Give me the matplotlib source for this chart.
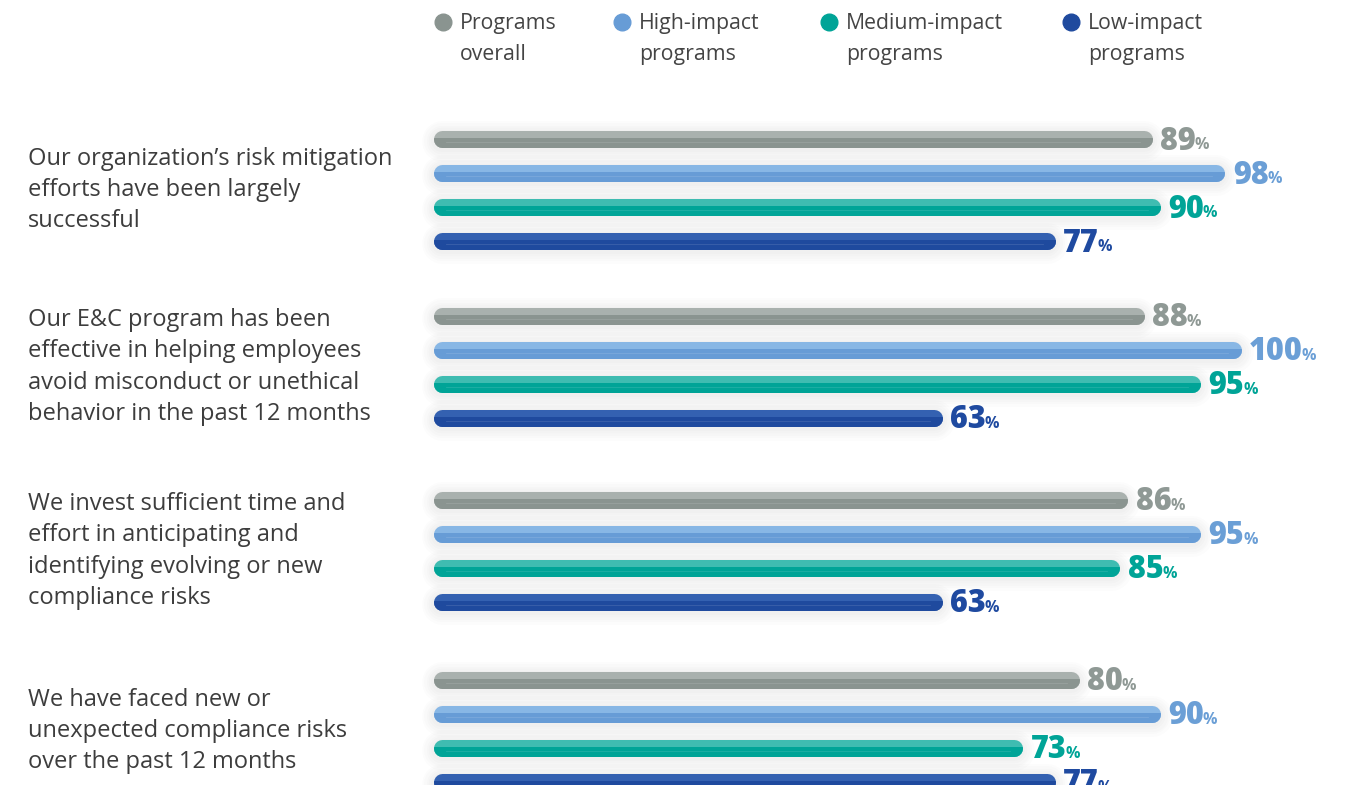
import matplotlib.pyplot as plt
from matplotlib.patches import Rectangle

# survey statements and share of respondents agreeing, by program type
statements = [
    "Our organization\u2019s risk mitigation\nefforts have been largely\nsuccessful",
    "Our E&C program has been\neffective in helping employees\navoid misconduct or unethical\nbehavior in the past 12 months",
    "We invest sufficient time and\neffort in anticipating and\nidentifying evolving or new\ncompliance risks",
    "We have faced new or\nunexpected compliance risks\nover the past 12 months",
]
series_names = ["Programs\noverall", "High-impact\nprograms", "Medium-impact\nprograms", "Low-impact\nprograms"]
overall = [89, 88, 86, 80]
high = [98, 100, 95, 90]
medium = [90, 95, 85, 73]
low = [77, 63, 63, 77]
values = [overall, high, medium, low]

# (bottom, top highlight, label) colours per series
colors = [
    ("#8a9490", "#a9b1ae", "#8f9995"),
    ("#679cd6", "#88b7e5", "#6b9fd6"),
    ("#00a497", "#3fbcb1", "#00a497"),
    ("#1f4a9e", "#3461b1", "#1f4aa0"),
]

W, H = 1348, 785
X0, PX = 433, 8.08          # pixel where 0% sits, pixels per percent
group_top = [139, 316, 500, 680]
step = 34
bar_px = 17

fig = plt.figure(figsize=(W / 100, H / 100), dpi=100)
ax = fig.add_axes([0, 0, 1, 1])
ax.set_xlim(-X0 / PX, (W - X0) / PX)
ax.set_ylim(H, 0)
ax.axis("off")

lw = bar_px * 0.72
cap = bar_px / 2 / PX

for g in range(len(statements)):
    for s in range(4):
        v = values[s][g]
        y = group_top[g] + s * step
        dark, light, txtc = colors[s]
        # soft shadow
        for k in range(1, 6):
            ax.plot([cap, v - cap], [y + 2, y + 2], color="#707070", alpha=0.02,
                    lw=lw + k * 3.4, solid_capstyle="round", zorder=1)
        # light top half, darker lower half clipped to the bottom of the bar
        ax.plot([cap, v - cap], [y, y], color=light, lw=lw, solid_capstyle="round", zorder=2)
        low_half, = ax.plot([cap, v - cap], [y, y], color=dark, lw=lw,
                            solid_capstyle="round", zorder=3)
        clip = Rectangle((-60, y - 1), 200, 30, transform=ax.transData)
        low_half.set_clip_path(clip)
        ax.plot([cap + 0.5, v - cap - 0.5], [y + 3.2, y + 3.2], color="white", alpha=0.13,
                lw=0.6, zorder=4)
        t = ax.text(v + 1.0, y + 10.5, f"{v}", color=txtc, fontsize=22, fontweight=800,
                    family="Open Sans", va="baseline", ha="left", zorder=5)
        ax.annotate("%", xy=(1, 0), xycoords=t, xytext=(-1, 3.5), textcoords="offset points",
                    color=txtc, fontsize=11.5, fontweight="bold", family="Open Sans",
                    va="bottom", ha="left", zorder=5)

    centre = group_top[g] + 1.5 * step
    ax.text(-(X0 - 28) / PX, centre, statements[g], fontsize=17, family="Open Sans",
            color="#3d3d3d", va="center", ha="left", linespacing=1.4)

# legend along the top
leg_x = [443, 622, 829, 1071]
for s, name in enumerate(series_names):
    fx = leg_x[s] / W
    fig.lines.append(plt.Line2D([fx], [1 - 22 / H], marker="o", markersize=12,
                                color=colors[s][0], transform=fig.transFigure))
    fig.text((leg_x[s] + 17) / W, 1 - 13 / H, name, fontsize=15.3, family="Open Sans",
             color="#444444", va="top", ha="left", linespacing=1.6)

fig.savefig("out.png", dpi=100, facecolor="white")
